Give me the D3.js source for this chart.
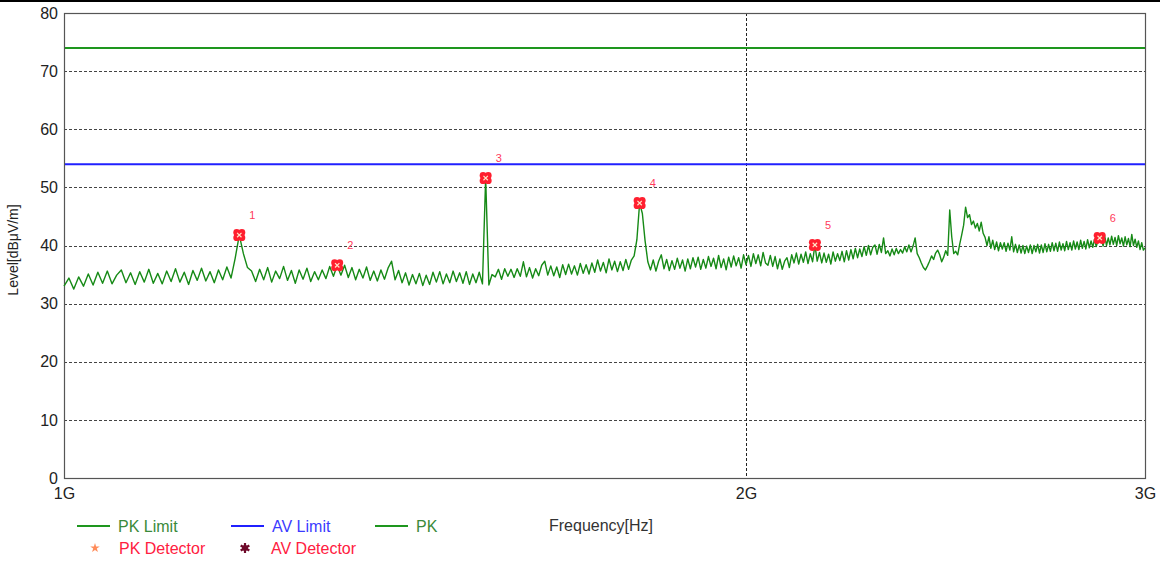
<!DOCTYPE html>
<html>
<head>
<meta charset="utf-8">
<script src="https://cdn.jsdelivr.net/npm/d3@7"></script>
<style>
  body { margin: 0; background: #fff; }
  svg { display: block; font-family: "Liberation Sans", Arial, sans-serif; }
</style>
</head>
<body>
<div id="chart"></div>
<script>
// sweep grid of the receiver (MHz)
var sweepStartMHz = 1000;
var sweepStepMHz = 5;

// PK trace levels, dBuV/m, one per sweep point (1000..3000 MHz)
var pkLevels = [
  33.0, 34.4, 32.5, 34.6, 33.0, 35.1, 33.2, 35.4, 33.5, 35.6, 33.4, 34.9, 35.8, 33.6, 35.3, 33.3, 35.5, 33.7, 35.9, 33.5,
  35.2, 33.4, 35.6, 33.8, 36.0, 33.7, 35.4, 33.3, 35.7, 34.0, 36.1, 33.9, 35.5, 33.6, 35.8, 34.1, 36.3, 34.4, 37.8, 41.8,
  38.6, 36.2, 35.6, 33.8, 35.9, 34.1, 36.2, 33.7, 35.6, 34.3, 36.4, 34.0, 35.7, 33.5, 35.8, 34.2, 36.1, 33.8, 35.5, 34.1,
  35.8, 34.3, 36.4, 34.7, 36.6, 34.9, 36.6, 34.5, 36.2, 34.1, 35.9, 34.4, 36.3, 34.0, 35.6, 33.9, 35.8, 34.2, 36.1, 37.3,
  34.1, 35.7, 33.6, 35.3, 33.2, 35.0, 33.4, 35.2, 33.1, 34.9, 33.3, 35.4, 33.7, 35.5, 33.4, 35.1, 33.6, 35.6, 33.8, 35.3,
  33.5, 35.5, 33.3, 35.1, 33.6, 35.4, 33.4, 51.6, 33.2, 35.0, 34.6, 35.9, 34.2, 36.0, 34.7, 35.9, 34.5, 36.0, 34.7, 37.2,
  34.6, 36.2, 34.4, 36.0, 34.8, 36.6, 37.3, 34.9, 36.5, 34.8, 36.3, 34.5, 36.7, 35.0, 36.8, 35.1, 36.5, 34.9, 36.9, 35.2,
  36.7, 35.1, 37.0, 35.4, 37.5, 35.6, 37.1, 35.3, 37.7, 35.8, 37.3, 35.5, 37.2, 35.7, 37.6, 35.9, 37.5, 38.2, 41.0, 47.3,
  45.5, 40.8, 37.2, 35.8, 37.5, 35.6, 37.3, 38.4, 36.0, 37.6, 35.7, 37.4, 35.9, 37.8, 36.1, 37.5, 35.6, 37.7, 36.0, 37.9,
  36.3, 38.0, 35.9, 37.6, 36.1, 38.1, 36.4, 37.8, 36.0, 38.3, 36.2, 37.7, 35.8, 38.0, 36.3, 38.2, 36.5, 37.9, 36.1, 38.4,
  36.7, 38.3, 36.4, 38.6, 36.9, 38.4, 36.5, 38.8, 37.0, 36.6, 38.3, 36.4, 38.1, 36.0, 37.7, 35.9, 37.3, 37.9, 36.2, 38.4,
  37.0, 38.7, 36.8, 38.5, 37.1, 38.9, 36.9, 38.6, 37.2, 40.1, 37.3, 38.8, 37.0, 38.7, 37.1, 38.5, 36.8, 38.9, 37.3, 38.6,
  37.4, 39.0, 37.2, 39.1, 37.5, 39.3, 37.7, 39.5, 37.9, 39.4, 38.1, 39.8, 38.3, 40.0, 38.4, 39.7, 40.1, 38.5, 40.2, 38.8,
  41.3, 38.6, 39.1, 38.2, 39.4, 38.4, 39.5, 38.6, 39.3, 38.7, 39.8, 38.9, 40.1, 38.9, 39.9, 41.3, 38.6, 37.9, 37.0, 36.2,
  35.8, 36.5, 37.3, 38.2, 37.6, 38.7, 39.2, 38.4, 37.2, 38.0, 39.1, 38.3, 46.1, 41.5, 38.6, 39.0, 38.4, 40.2, 41.8, 43.5,
  46.6, 44.8, 45.3, 43.6, 44.2, 43.0, 43.8, 42.5, 44.0, 42.1, 41.4, 40.0, 41.5, 39.5, 40.9, 39.3, 40.6, 39.1, 40.5, 39.4,
  40.5, 39.0, 40.4, 39.2, 41.5, 38.9, 40.2, 38.8, 40.1, 38.7, 40.0, 38.6, 39.9, 38.8, 40.1, 38.6, 40.0, 38.9, 40.2, 38.7,
  40.1, 38.8, 40.3, 38.9, 40.2, 39.0, 40.5, 39.1, 40.4, 39.0, 40.6, 39.2, 40.3, 39.1, 40.7, 39.3, 40.5, 39.2, 40.8, 39.4,
  40.6, 39.3, 40.9, 39.5, 40.7, 39.4, 41.0, 39.6, 40.8, 39.7, 41.1, 39.8, 40.9, 41.3, 41.2, 39.9, 41.5, 40.0, 41.3, 40.1,
  41.6, 40.2, 41.4, 40.0, 41.7, 40.3, 41.3, 39.9, 41.5, 40.1, 41.2, 39.8, 41.9, 40.0, 41.1, 39.7, 40.8, 39.3, 40.5, 39.2, 39.6
];

var pkLimit = 74;
var avLimit = 54;

// marked peaks
var markerIds = ["1", "2", "3", "4", "5", "6"];
var markerFreqsMHz = [1195, 1320, 1535, 1795, 2145, 2865];
var markerLevels = [41.8, 36.6, 51.6, 47.3, 40.1, 41.3];

var yTicks = [0, 10, 20, 30, 40, 50, 60, 70, 80];
var xTicks = [1e9, 2e9, 3e9];

const width = 1160, height = 563;
const plot = ({ left: 64, top: 13, right: 1145, bottom: 478 });

var svg = d3.select("#chart").append("svg")
    .attr("width", width)
    .attr("height", height);

// black rule across the very top
svg.append("rect").attr("x", 0).attr("y", 0).attr("width", width).attr("height", 2).attr("fill", "#000");

var x = d3.scaleLog().domain([1e9, 3e9]).range([plot.left, plot.right]);
var y = d3.scaleLinear().domain([0, 80]).range([plot.bottom, plot.top]);

// grid
svg.append("g").selectAll("line")
    .data(yTicks.filter(d => d > 0 && d < 80))
    .enter().append("line")
    .attr("x1", plot.left).attr("x2", plot.right)
    .attr("y1", d => Math.round(y(d)) + 0.5).attr("y2", d => Math.round(y(d)) + 0.5)
    .attr("stroke", "#444").attr("stroke-dasharray", "3,2");

svg.append("line")
    .attr("x1", Math.round(x(2e9)) + 0.5).attr("x2", Math.round(x(2e9)) + 0.5)
    .attr("y1", plot.top).attr("y2", plot.bottom)
    .attr("stroke", "#222").attr("stroke-dasharray", "3,2");

// axes
var yAxis = svg.append("g")
    .attr("transform", `translate(${plot.left},0)`)
    .call(d3.axisLeft(y).tickValues(yTicks).tickSize(0).tickPadding(6));
yAxis.select(".domain").remove();
yAxis.selectAll("text").attr("font-size", 16).attr("fill", "#222").attr("font-family", "Liberation Sans, Arial, sans-serif");

var xAxis = svg.append("g")
    .attr("transform", `translate(0,${plot.bottom})`)
    .call(d3.axisBottom(x).tickValues(xTicks).tickSize(0).tickPadding(10).tickFormat(d => (d / 1e9) + "G"));
xAxis.select(".domain").remove();
xAxis.selectAll("text").attr("font-size", 16).attr("fill", "#222").attr("font-family", "Liberation Sans, Arial, sans-serif");

// plot frame
svg.append("rect")
    .attr("x", plot.left + 0.5).attr("y", plot.top + 0.5)
    .attr("width", plot.right - plot.left).attr("height", plot.bottom - plot.top)
    .attr("fill", "none").attr("stroke", "#555").attr("stroke-width", 1.2);

// limit lines
svg.append("line")
    .attr("x1", plot.left + 1).attr("x2", plot.right)
    .attr("y1", y(pkLimit)).attr("y2", y(pkLimit))
    .attr("stroke", "#1e961e").attr("stroke-width", 2);
svg.append("line")
    .attr("x1", plot.left + 1).attr("x2", plot.right)
    .attr("y1", y(avLimit)).attr("y2", y(avLimit))
    .attr("stroke", "#2020ff").attr("stroke-width", 2);

// PK trace
var trace = pkLevels.map((v, i) => ({ f: (sweepStartMHz + i * sweepStepMHz) * 1e6, v: v }));
var line = d3.line().x(d => x(d.f)).y(d => y(d.v));
svg.append("path")
    .datum(trace)
    .attr("d", line)
    .attr("fill", "none")
    .attr("stroke", "#168a16")
    .attr("stroke-width", 1.4)
    .attr("stroke-linejoin", "round");

// markers
var markers = markerIds.map((id, i) => ({ id: id, f: markerFreqsMHz[i] * 1e6, v: markerLevels[i] }));
var mg = svg.append("g").selectAll("g")
    .data(markers)
    .enter().append("g")
    .attr("transform", d => `translate(${x(d.f)},${y(d.v)})`);

[[-2.6, -2.6], [2.6, -2.6], [-2.6, 2.6], [2.6, 2.6]].forEach(function(o) {
    mg.append("circle").attr("cx", o[0]).attr("cy", o[1]).attr("r", 3.4).attr("fill", "#ff1f2f");
});
mg.append("circle").attr("r", 3.2).attr("fill", "#ff1f2f");
mg.append("path")
    .attr("d", "M-2.2,-2.2L2.2,2.2M2.2,-2.2L-2.2,2.2")
    .attr("stroke", "#ffe6c8").attr("stroke-width", 1.2);

svg.append("g").selectAll("text")
    .data(markers)
    .enter().append("text")
    .attr("x", d => x(d.f) + 10)
    .attr("y", d => y(d.v) - 16)
    .attr("font-size", 11)
    .attr("fill", "#ff3b5c")
    .text(d => d.id);

// axis titles
svg.append("text")
    .attr("transform", "translate(18,250) rotate(-90)")
    .attr("text-anchor", "middle")
    .attr("font-size", 14)
    .attr("fill", "#222")
    .text("Level[dBμV/m]");

svg.append("text")
    .attr("x", 549).attr("y", 531)
    .attr("font-size", 16)
    .attr("fill", "#333")
    .text("Frequency[Hz]");

// legend
var legendLines = [
    { label: "PK Limit", color: "#1e961e", text: "#3a8a3a", x: 77 },
    { label: "AV Limit", color: "#2020ff", text: "#3b3bff", x: 231 },
    { label: "PK", color: "#1e961e", text: "#3a8a3a", x: 375 }
];
var lg = svg.append("g").selectAll("g")
    .data(legendLines)
    .enter().append("g")
    .attr("transform", d => `translate(${d.x},526)`);
lg.append("line").attr("x1", 0).attr("x2", 33).attr("stroke", d => d.color).attr("stroke-width", 1.8);
lg.append("text").attr("x", 41).attr("y", 5.5).attr("font-size", 16).attr("fill", d => d.text).text(d => d.label);

svg.append("path")
    .attr("transform", "translate(95,548)")
    .attr("d", d3.symbol().type(d3.symbolStar).size(28)())
    .attr("fill", "#ff8c5a");
svg.append("text").attr("x", 119).attr("y", 553.5).attr("font-size", 16).attr("fill", "#ff2040").text("PK Detector");

svg.append("path")
    .attr("transform", "translate(245,548)")
    .attr("d", d3.symbol().type(d3.symbolAsterisk).size(70)())
    .attr("stroke", "#6e0a2a").attr("stroke-width", 2.2).attr("fill", "none");
svg.append("circle").attr("cx", 245).attr("cy", 548).attr("r", 3).attr("fill", "#6e0a2a");
svg.append("text").attr("x", 271).attr("y", 553.5).attr("font-size", 16).attr("fill", "#ff2040").text("AV Detector");
</script>
</body>
</html>
